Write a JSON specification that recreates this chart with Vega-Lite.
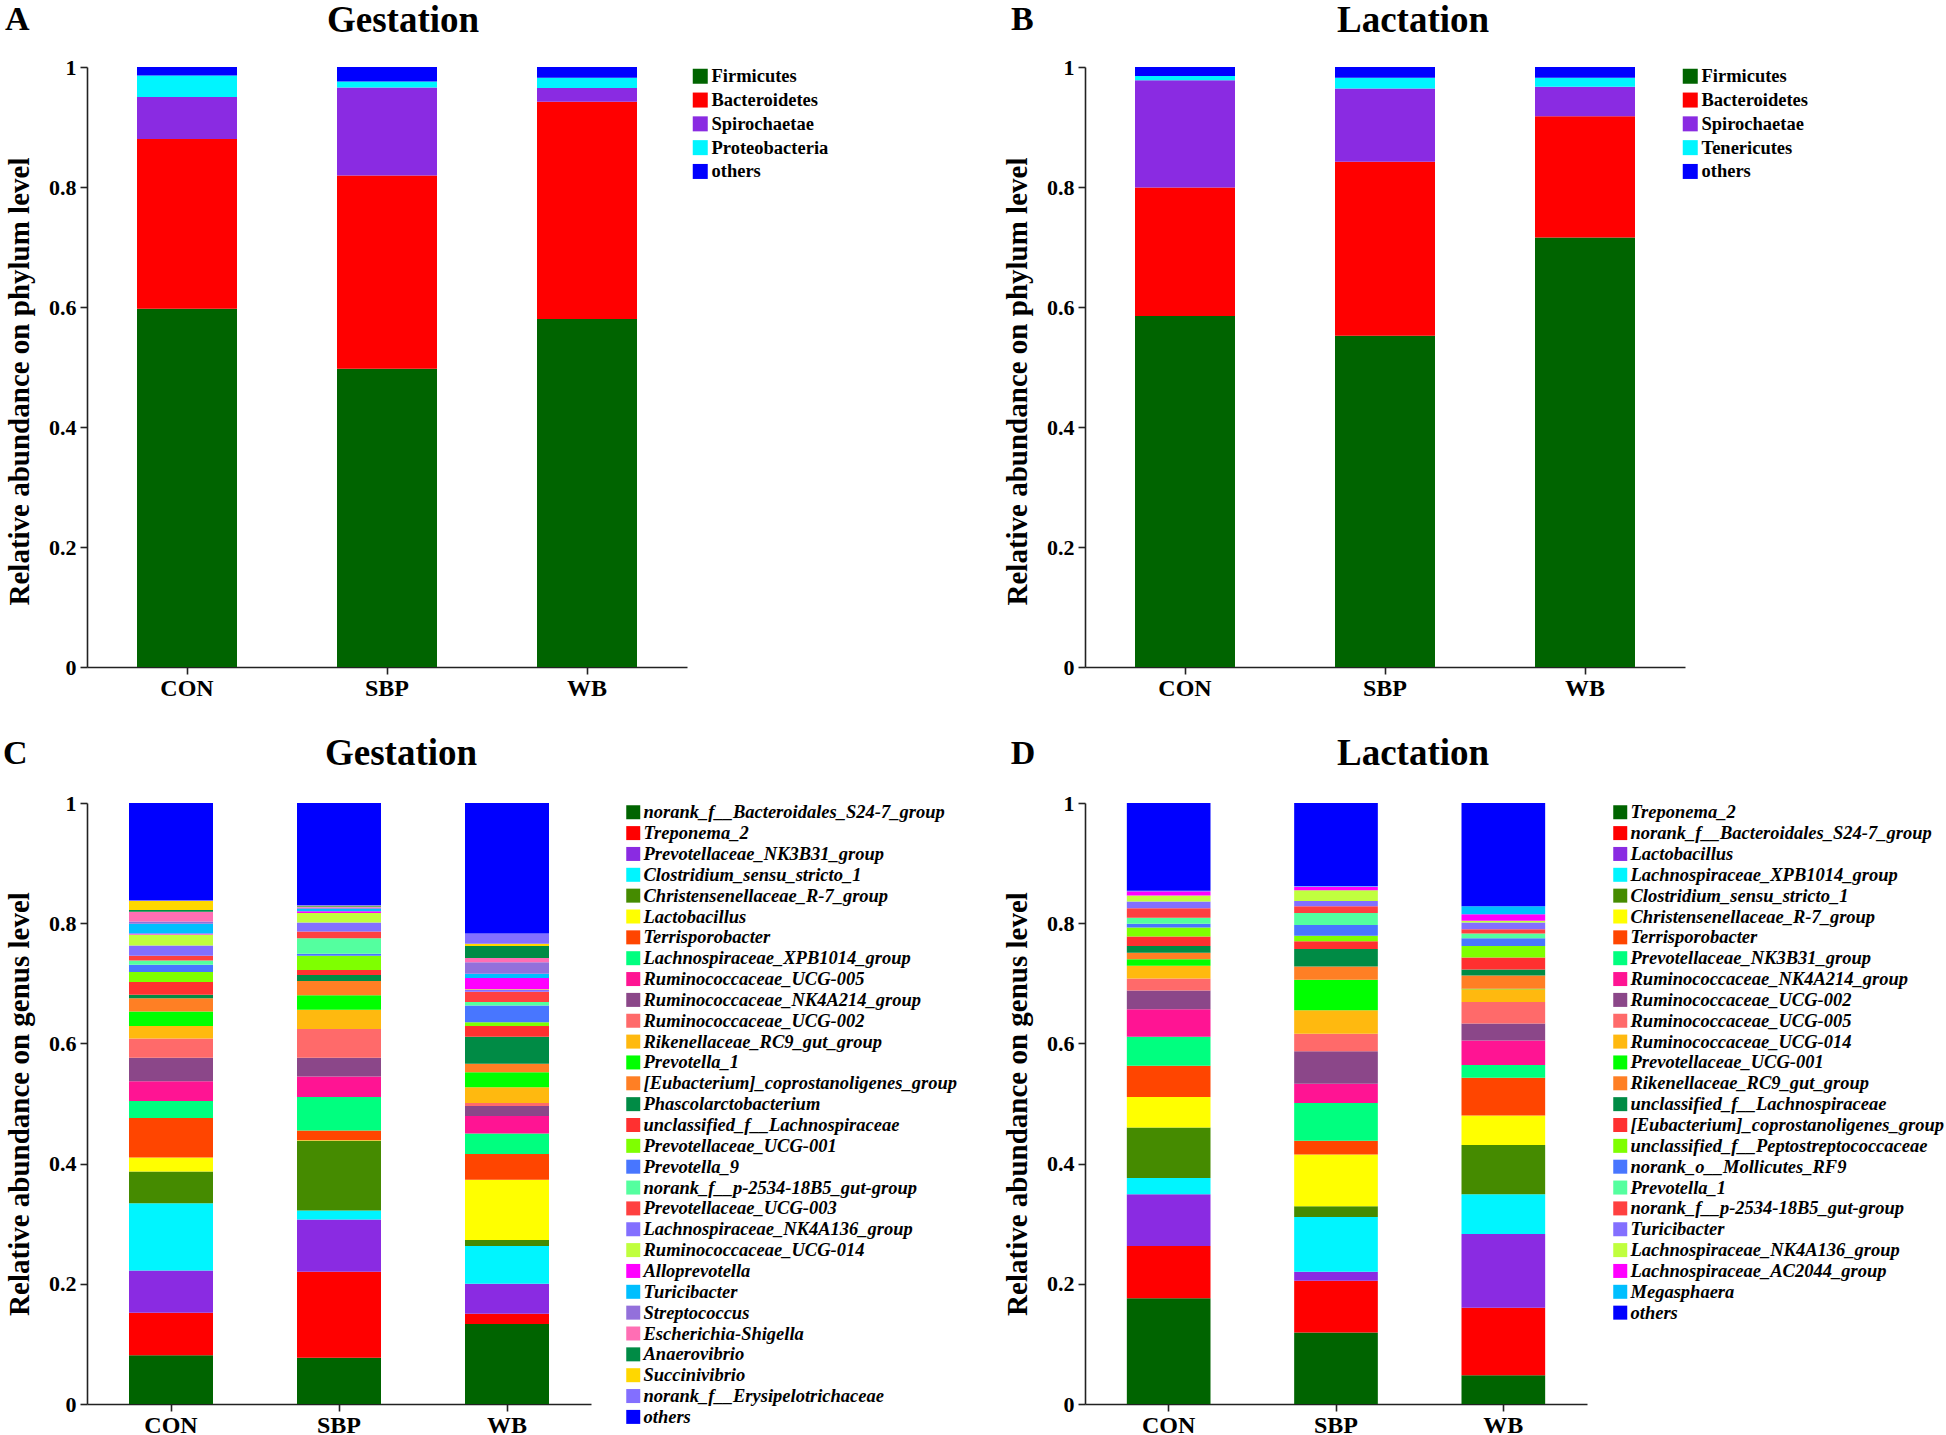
{
  "$schema": "https://vega.github.io/schema/vega-lite/v6.json",
  "padding": {"left": 3, "top": 2, "right": 5, "bottom": 5},
  "background": "white",
  "bounds": "flush",
  "columns": 2,
  "spacing": {"row": 136, "column": 398},
  "resolve": {"scale": {"color": "independent"}},
  "config": {
    "font": "Liberation Serif",
    "view": {"stroke": null},
    "axis": {"domainColor": "#222", "domainWidth": 1.6, "tickColor": "#222", "tickWidth": 1.6, "tickSize": 7, "labelFont": "Liberation Serif", "labelFontWeight": "bold", "labelColor": "black", "labelFontSize": 22, "titleFont": "Liberation Serif", "titleFontWeight": "bold", "titleFontSize": 29, "titleColor": "black", "grid": false},
    "axisX": {"labelAngle": 0, "labelFontSize": 24, "labelPadding": 2},
    "axisY": {"labelPadding": 4, "titlePadding": 14},
    "legend": {"orient": "right", "symbolType": "square", "labelFont": "Liberation Serif", "labelFontWeight": "bold", "labelColor": "black", "labelLimit": 600, "padding": 0, "symbolStrokeWidth": 0, "symbolOpacity": 1},
    "text": {"font": "Liberation Serif", "color": "black"}
  },
  "datasets": {
    "phylumG": [
      {"group": "CON", "taxon": "Firmicutes", "value": 0.597, "rank": 1},
      {"group": "CON", "taxon": "Bacteroidetes", "value": 0.283, "rank": 2},
      {"group": "CON", "taxon": "Spirochaetae", "value": 0.070, "rank": 3},
      {"group": "CON", "taxon": "Proteobacteria", "value": 0.036, "rank": 4},
      {"group": "CON", "taxon": "others", "value": 0.014, "rank": 5},
      {"group": "SBP", "taxon": "Firmicutes", "value": 0.497, "rank": 1},
      {"group": "SBP", "taxon": "Bacteroidetes", "value": 0.322, "rank": 2},
      {"group": "SBP", "taxon": "Spirochaetae", "value": 0.147, "rank": 3},
      {"group": "SBP", "taxon": "Proteobacteria", "value": 0.010, "rank": 4},
      {"group": "SBP", "taxon": "others", "value": 0.024, "rank": 5},
      {"group": "WB", "taxon": "Firmicutes", "value": 0.580, "rank": 1},
      {"group": "WB", "taxon": "Bacteroidetes", "value": 0.362, "rank": 2},
      {"group": "WB", "taxon": "Spirochaetae", "value": 0.023, "rank": 3},
      {"group": "WB", "taxon": "Proteobacteria", "value": 0.017, "rank": 4},
      {"group": "WB", "taxon": "others", "value": 0.018, "rank": 5}
    ],
    "phylumL": [
      {"group": "CON", "taxon": "Firmicutes", "value": 0.585, "rank": 1},
      {"group": "CON", "taxon": "Bacteroidetes", "value": 0.214, "rank": 2},
      {"group": "CON", "taxon": "Spirochaetae", "value": 0.179, "rank": 3},
      {"group": "CON", "taxon": "Tenericutes", "value": 0.007, "rank": 4},
      {"group": "CON", "taxon": "others", "value": 0.015, "rank": 5},
      {"group": "SBP", "taxon": "Firmicutes", "value": 0.552, "rank": 1},
      {"group": "SBP", "taxon": "Bacteroidetes", "value": 0.290, "rank": 2},
      {"group": "SBP", "taxon": "Spirochaetae", "value": 0.122, "rank": 3},
      {"group": "SBP", "taxon": "Tenericutes", "value": 0.018, "rank": 4},
      {"group": "SBP", "taxon": "others", "value": 0.018, "rank": 5},
      {"group": "WB", "taxon": "Firmicutes", "value": 0.716, "rank": 1},
      {"group": "WB", "taxon": "Bacteroidetes", "value": 0.202, "rank": 2},
      {"group": "WB", "taxon": "Spirochaetae", "value": 0.049, "rank": 3},
      {"group": "WB", "taxon": "Tenericutes", "value": 0.015, "rank": 4},
      {"group": "WB", "taxon": "others", "value": 0.018, "rank": 5}
    ],
    "genusG": [
      {"group": "CON", "taxon": "norank_f__Bacteroidales_S24-7_group", "value": 0.081, "rank": 1},
      {"group": "CON", "taxon": "Treponema_2", "value": 0.071, "rank": 2},
      {"group": "CON", "taxon": "Prevotellaceae_NK3B31_group", "value": 0.070, "rank": 3},
      {"group": "CON", "taxon": "Clostridium_sensu_stricto_1", "value": 0.112, "rank": 4},
      {"group": "CON", "taxon": "Christensenellaceae_R-7_group", "value": 0.053, "rank": 5},
      {"group": "CON", "taxon": "Lactobacillus", "value": 0.023, "rank": 6},
      {"group": "CON", "taxon": "Terrisporobacter", "value": 0.066, "rank": 7},
      {"group": "CON", "taxon": "Lachnospiraceae_XPB1014_group", "value": 0.028, "rank": 8},
      {"group": "CON", "taxon": "Ruminococcaceae_UCG-005", "value": 0.033, "rank": 9},
      {"group": "CON", "taxon": "Ruminococcaceae_NK4A214_group", "value": 0.039, "rank": 10},
      {"group": "CON", "taxon": "Ruminococcaceae_UCG-002", "value": 0.032, "rank": 11},
      {"group": "CON", "taxon": "Rikenellaceae_RC9_gut_group", "value": 0.021, "rank": 12},
      {"group": "CON", "taxon": "Prevotella_1", "value": 0.024, "rank": 13},
      {"group": "CON", "taxon": "[Eubacterium]_coprostanoligenes_group", "value": 0.022, "rank": 14},
      {"group": "CON", "taxon": "Phascolarctobacterium", "value": 0.006, "rank": 15},
      {"group": "CON", "taxon": "unclassified_f__Lachnospiraceae", "value": 0.021, "rank": 16},
      {"group": "CON", "taxon": "Prevotellaceae_UCG-001", "value": 0.017, "rank": 17},
      {"group": "CON", "taxon": "Prevotella_9", "value": 0.012, "rank": 18},
      {"group": "CON", "taxon": "norank_f__p-2534-18B5_gut-group", "value": 0.007, "rank": 19},
      {"group": "CON", "taxon": "Prevotellaceae_UCG-003", "value": 0.008, "rank": 20},
      {"group": "CON", "taxon": "Lachnospiraceae_NK4A136_group", "value": 0.017, "rank": 21},
      {"group": "CON", "taxon": "Ruminococcaceae_UCG-014", "value": 0.018, "rank": 22},
      {"group": "CON", "taxon": "Alloprevotella", "value": 0.002, "rank": 23},
      {"group": "CON", "taxon": "Turicibacter", "value": 0.016, "rank": 24},
      {"group": "CON", "taxon": "Streptococcus", "value": 0.004, "rank": 25},
      {"group": "CON", "taxon": "Escherichia-Shigella", "value": 0.016, "rank": 26},
      {"group": "CON", "taxon": "Anaerovibrio", "value": 0.003, "rank": 27},
      {"group": "CON", "taxon": "Succinivibrio", "value": 0.015, "rank": 28},
      {"group": "CON", "taxon": "norank_f__Erysipelotrichaceae", "value": 0.001, "rank": 29},
      {"group": "CON", "taxon": "others", "value": 0.162, "rank": 30},
      {"group": "SBP", "taxon": "norank_f__Bacteroidales_S24-7_group", "value": 0.077, "rank": 1},
      {"group": "SBP", "taxon": "Treponema_2", "value": 0.143, "rank": 2},
      {"group": "SBP", "taxon": "Prevotellaceae_NK3B31_group", "value": 0.087, "rank": 3},
      {"group": "SBP", "taxon": "Clostridium_sensu_stricto_1", "value": 0.015, "rank": 4},
      {"group": "SBP", "taxon": "Christensenellaceae_R-7_group", "value": 0.116, "rank": 5},
      {"group": "SBP", "taxon": "Lactobacillus", "value": 0.001, "rank": 6},
      {"group": "SBP", "taxon": "Terrisporobacter", "value": 0.016, "rank": 7},
      {"group": "SBP", "taxon": "Lachnospiraceae_XPB1014_group", "value": 0.056, "rank": 8},
      {"group": "SBP", "taxon": "Ruminococcaceae_UCG-005", "value": 0.034, "rank": 9},
      {"group": "SBP", "taxon": "Ruminococcaceae_NK4A214_group", "value": 0.031, "rank": 10},
      {"group": "SBP", "taxon": "Ruminococcaceae_UCG-002", "value": 0.048, "rank": 11},
      {"group": "SBP", "taxon": "Rikenellaceae_RC9_gut_group", "value": 0.032, "rank": 12},
      {"group": "SBP", "taxon": "Prevotella_1", "value": 0.024, "rank": 13},
      {"group": "SBP", "taxon": "[Eubacterium]_coprostanoligenes_group", "value": 0.024, "rank": 14},
      {"group": "SBP", "taxon": "Phascolarctobacterium", "value": 0.010, "rank": 15},
      {"group": "SBP", "taxon": "unclassified_f__Lachnospiraceae", "value": 0.008, "rank": 16},
      {"group": "SBP", "taxon": "Prevotellaceae_UCG-001", "value": 0.024, "rank": 17},
      {"group": "SBP", "taxon": "Prevotella_9", "value": 0.003, "rank": 18},
      {"group": "SBP", "taxon": "norank_f__p-2534-18B5_gut-group", "value": 0.026, "rank": 19},
      {"group": "SBP", "taxon": "Prevotellaceae_UCG-003", "value": 0.011, "rank": 20},
      {"group": "SBP", "taxon": "Lachnospiraceae_NK4A136_group", "value": 0.015, "rank": 21},
      {"group": "SBP", "taxon": "Ruminococcaceae_UCG-014", "value": 0.016, "rank": 22},
      {"group": "SBP", "taxon": "Alloprevotella", "value": 0.003, "rank": 23},
      {"group": "SBP", "taxon": "Turicibacter", "value": 0.004, "rank": 24},
      {"group": "SBP", "taxon": "Streptococcus", "value": 0.002, "rank": 25},
      {"group": "SBP", "taxon": "Escherichia-Shigella", "value": 0.001, "rank": 26},
      {"group": "SBP", "taxon": "Anaerovibrio", "value": 0.001, "rank": 27},
      {"group": "SBP", "taxon": "Succinivibrio", "value": 0.001, "rank": 28},
      {"group": "SBP", "taxon": "norank_f__Erysipelotrichaceae", "value": 0.001, "rank": 29},
      {"group": "SBP", "taxon": "others", "value": 0.170, "rank": 30},
      {"group": "WB", "taxon": "norank_f__Bacteroidales_S24-7_group", "value": 0.133, "rank": 1},
      {"group": "WB", "taxon": "Treponema_2", "value": 0.017, "rank": 2},
      {"group": "WB", "taxon": "Prevotellaceae_NK3B31_group", "value": 0.050, "rank": 3},
      {"group": "WB", "taxon": "Clostridium_sensu_stricto_1", "value": 0.063, "rank": 4},
      {"group": "WB", "taxon": "Christensenellaceae_R-7_group", "value": 0.010, "rank": 5},
      {"group": "WB", "taxon": "Lactobacillus", "value": 0.100, "rank": 6},
      {"group": "WB", "taxon": "Terrisporobacter", "value": 0.043, "rank": 7},
      {"group": "WB", "taxon": "Lachnospiraceae_XPB1014_group", "value": 0.034, "rank": 8},
      {"group": "WB", "taxon": "Ruminococcaceae_UCG-005", "value": 0.029, "rank": 9},
      {"group": "WB", "taxon": "Ruminococcaceae_NK4A214_group", "value": 0.017, "rank": 10},
      {"group": "WB", "taxon": "Ruminococcaceae_UCG-002", "value": 0.005, "rank": 11},
      {"group": "WB", "taxon": "Rikenellaceae_RC9_gut_group", "value": 0.026, "rank": 12},
      {"group": "WB", "taxon": "Prevotella_1", "value": 0.025, "rank": 13},
      {"group": "WB", "taxon": "[Eubacterium]_coprostanoligenes_group", "value": 0.014, "rank": 14},
      {"group": "WB", "taxon": "Phascolarctobacterium", "value": 0.045, "rank": 15},
      {"group": "WB", "taxon": "unclassified_f__Lachnospiraceae", "value": 0.018, "rank": 16},
      {"group": "WB", "taxon": "Prevotellaceae_UCG-001", "value": 0.006, "rank": 17},
      {"group": "WB", "taxon": "Prevotella_9", "value": 0.028, "rank": 18},
      {"group": "WB", "taxon": "norank_f__p-2534-18B5_gut-group", "value": 0.006, "rank": 19},
      {"group": "WB", "taxon": "Prevotellaceae_UCG-003", "value": 0.017, "rank": 20},
      {"group": "WB", "taxon": "Lachnospiraceae_NK4A136_group", "value": 0.003, "rank": 21},
      {"group": "WB", "taxon": "Ruminococcaceae_UCG-014", "value": 0.001, "rank": 22},
      {"group": "WB", "taxon": "Alloprevotella", "value": 0.019, "rank": 23},
      {"group": "WB", "taxon": "Turicibacter", "value": 0.007, "rank": 24},
      {"group": "WB", "taxon": "Streptococcus", "value": 0.019, "rank": 25},
      {"group": "WB", "taxon": "Escherichia-Shigella", "value": 0.007, "rank": 26},
      {"group": "WB", "taxon": "Anaerovibrio", "value": 0.020, "rank": 27},
      {"group": "WB", "taxon": "Succinivibrio", "value": 0.004, "rank": 28},
      {"group": "WB", "taxon": "norank_f__Erysipelotrichaceae", "value": 0.017, "rank": 29},
      {"group": "WB", "taxon": "others", "value": 0.217, "rank": 30}
    ],
    "genusL": [
      {"group": "CON", "taxon": "Treponema_2", "value": 0.176, "rank": 1},
      {"group": "CON", "taxon": "norank_f__Bacteroidales_S24-7_group", "value": 0.087, "rank": 2},
      {"group": "CON", "taxon": "Lactobacillus", "value": 0.086, "rank": 3},
      {"group": "CON", "taxon": "Lachnospiraceae_XPB1014_group", "value": 0.027, "rank": 4},
      {"group": "CON", "taxon": "Clostridium_sensu_stricto_1", "value": 0.084, "rank": 5},
      {"group": "CON", "taxon": "Christensenellaceae_R-7_group", "value": 0.051, "rank": 6},
      {"group": "CON", "taxon": "Terrisporobacter", "value": 0.052, "rank": 7},
      {"group": "CON", "taxon": "Prevotellaceae_NK3B31_group", "value": 0.048, "rank": 8},
      {"group": "CON", "taxon": "Ruminococcaceae_NK4A214_group", "value": 0.046, "rank": 9},
      {"group": "CON", "taxon": "Ruminococcaceae_UCG-002", "value": 0.031, "rank": 10},
      {"group": "CON", "taxon": "Ruminococcaceae_UCG-005", "value": 0.020, "rank": 11},
      {"group": "CON", "taxon": "Ruminococcaceae_UCG-014", "value": 0.021, "rank": 12},
      {"group": "CON", "taxon": "Prevotellaceae_UCG-001", "value": 0.011, "rank": 13},
      {"group": "CON", "taxon": "Rikenellaceae_RC9_gut_group", "value": 0.011, "rank": 14},
      {"group": "CON", "taxon": "unclassified_f__Lachnospiraceae", "value": 0.011, "rank": 15},
      {"group": "CON", "taxon": "[Eubacterium]_coprostanoligenes_group", "value": 0.016, "rank": 16},
      {"group": "CON", "taxon": "unclassified_f__Peptostreptococcaceae", "value": 0.015, "rank": 17},
      {"group": "CON", "taxon": "norank_o__Mollicutes_RF9", "value": 0.006, "rank": 18},
      {"group": "CON", "taxon": "Prevotella_1", "value": 0.010, "rank": 19},
      {"group": "CON", "taxon": "norank_f__p-2534-18B5_gut-group", "value": 0.016, "rank": 20},
      {"group": "CON", "taxon": "Turicibacter", "value": 0.011, "rank": 21},
      {"group": "CON", "taxon": "Lachnospiraceae_NK4A136_group", "value": 0.010, "rank": 22},
      {"group": "CON", "taxon": "Lachnospiraceae_AC2044_group", "value": 0.007, "rank": 23},
      {"group": "CON", "taxon": "Megasphaera", "value": 0.001, "rank": 24},
      {"group": "CON", "taxon": "others", "value": 0.146, "rank": 25},
      {"group": "SBP", "taxon": "Treponema_2", "value": 0.119, "rank": 1},
      {"group": "SBP", "taxon": "norank_f__Bacteroidales_S24-7_group", "value": 0.086, "rank": 2},
      {"group": "SBP", "taxon": "Lactobacillus", "value": 0.015, "rank": 3},
      {"group": "SBP", "taxon": "Lachnospiraceae_XPB1014_group", "value": 0.091, "rank": 4},
      {"group": "SBP", "taxon": "Clostridium_sensu_stricto_1", "value": 0.018, "rank": 5},
      {"group": "SBP", "taxon": "Christensenellaceae_R-7_group", "value": 0.086, "rank": 6},
      {"group": "SBP", "taxon": "Terrisporobacter", "value": 0.023, "rank": 7},
      {"group": "SBP", "taxon": "Prevotellaceae_NK3B31_group", "value": 0.063, "rank": 8},
      {"group": "SBP", "taxon": "Ruminococcaceae_NK4A214_group", "value": 0.032, "rank": 9},
      {"group": "SBP", "taxon": "Ruminococcaceae_UCG-002", "value": 0.054, "rank": 10},
      {"group": "SBP", "taxon": "Ruminococcaceae_UCG-005", "value": 0.029, "rank": 11},
      {"group": "SBP", "taxon": "Ruminococcaceae_UCG-014", "value": 0.039, "rank": 12},
      {"group": "SBP", "taxon": "Prevotellaceae_UCG-001", "value": 0.051, "rank": 13},
      {"group": "SBP", "taxon": "Rikenellaceae_RC9_gut_group", "value": 0.022, "rank": 14},
      {"group": "SBP", "taxon": "unclassified_f__Lachnospiraceae", "value": 0.029, "rank": 15},
      {"group": "SBP", "taxon": "[Eubacterium]_coprostanoligenes_group", "value": 0.013, "rank": 16},
      {"group": "SBP", "taxon": "unclassified_f__Peptostreptococcaceae", "value": 0.009, "rank": 17},
      {"group": "SBP", "taxon": "norank_o__Mollicutes_RF9", "value": 0.018, "rank": 18},
      {"group": "SBP", "taxon": "Prevotella_1", "value": 0.020, "rank": 19},
      {"group": "SBP", "taxon": "norank_f__p-2534-18B5_gut-group", "value": 0.011, "rank": 20},
      {"group": "SBP", "taxon": "Turicibacter", "value": 0.009, "rank": 21},
      {"group": "SBP", "taxon": "Lachnospiraceae_NK4A136_group", "value": 0.018, "rank": 22},
      {"group": "SBP", "taxon": "Lachnospiraceae_AC2044_group", "value": 0.006, "rank": 23},
      {"group": "SBP", "taxon": "Megasphaera", "value": 0.001, "rank": 24},
      {"group": "SBP", "taxon": "others", "value": 0.138, "rank": 25},
      {"group": "WB", "taxon": "Treponema_2", "value": 0.048, "rank": 1},
      {"group": "WB", "taxon": "norank_f__Bacteroidales_S24-7_group", "value": 0.112, "rank": 2},
      {"group": "WB", "taxon": "Lactobacillus", "value": 0.123, "rank": 3},
      {"group": "WB", "taxon": "Lachnospiraceae_XPB1014_group", "value": 0.066, "rank": 4},
      {"group": "WB", "taxon": "Clostridium_sensu_stricto_1", "value": 0.082, "rank": 5},
      {"group": "WB", "taxon": "Christensenellaceae_R-7_group", "value": 0.049, "rank": 6},
      {"group": "WB", "taxon": "Terrisporobacter", "value": 0.063, "rank": 7},
      {"group": "WB", "taxon": "Prevotellaceae_NK3B31_group", "value": 0.021, "rank": 8},
      {"group": "WB", "taxon": "Ruminococcaceae_NK4A214_group", "value": 0.041, "rank": 9},
      {"group": "WB", "taxon": "Ruminococcaceae_UCG-002", "value": 0.028, "rank": 10},
      {"group": "WB", "taxon": "Ruminococcaceae_UCG-005", "value": 0.036, "rank": 11},
      {"group": "WB", "taxon": "Ruminococcaceae_UCG-014", "value": 0.021, "rank": 12},
      {"group": "WB", "taxon": "Prevotellaceae_UCG-001", "value": 0.001, "rank": 13},
      {"group": "WB", "taxon": "Rikenellaceae_RC9_gut_group", "value": 0.022, "rank": 14},
      {"group": "WB", "taxon": "unclassified_f__Lachnospiraceae", "value": 0.010, "rank": 15},
      {"group": "WB", "taxon": "[Eubacterium]_coprostanoligenes_group", "value": 0.020, "rank": 16},
      {"group": "WB", "taxon": "unclassified_f__Peptostreptococcaceae", "value": 0.019, "rank": 17},
      {"group": "WB", "taxon": "norank_o__Mollicutes_RF9", "value": 0.013, "rank": 18},
      {"group": "WB", "taxon": "Prevotella_1", "value": 0.008, "rank": 19},
      {"group": "WB", "taxon": "norank_f__p-2534-18B5_gut-group", "value": 0.007, "rank": 20},
      {"group": "WB", "taxon": "Turicibacter", "value": 0.011, "rank": 21},
      {"group": "WB", "taxon": "Lachnospiraceae_NK4A136_group", "value": 0.003, "rank": 22},
      {"group": "WB", "taxon": "Lachnospiraceae_AC2044_group", "value": 0.011, "rank": 23},
      {"group": "WB", "taxon": "Megasphaera", "value": 0.013, "rank": 24},
      {"group": "WB", "taxon": "others", "value": 0.172, "rank": 25}
    ]
  },
  "concat": [
    {
      "width": 600, "height": 600,
      "layer": [
        {
          "data": {"name": "phylumG"},
          "mark": {"type": "bar"},
          "encoding": {
            "x": {"field": "group", "type": "nominal", "scale": {"paddingInner": 0.5, "paddingOuter": 0.25}, "axis": {"title": null}},
            "y": {"field": "value", "type": "quantitative", "stack": "zero", "scale": {"domain": [0, 1], "nice": false}, "axis": {"values": [0, 0.2, 0.4, 0.6, 0.8, 1], "format": "~g", "title": "Relative abundance on phylum level", "titleY": 314}},
            "color": {"field": "taxon", "type": "nominal",
              "scale": {"domain": ["Firmicutes", "Bacteroidetes", "Spirochaetae", "Proteobacteria", "others"], "range": ["#006400", "#FF0000", "#8A2BE2", "#00F5FF", "#0000FF"]},
              "legend": {"title": null, "symbolSize": 225, "labelFontSize": 18.5, "rowPadding": 4.8, "labelOffset": 2, "offset": 4}},
            "order": {"field": "rank", "type": "quantitative", "sort": "ascending"}
          }
        },
        {
          "data": {"values": [{"label": "A"}]},
          "mark": {"type": "text", "align": "left", "baseline": "alphabetic", "dx": -182, "dy": -37, "fontSize": 34, "fontWeight": "bold"},
          "encoding": {"x": {"datum": "CON", "type": "nominal"}, "y": {"datum": 1, "type": "quantitative"}, "text": {"field": "label"}}
        },
        {
          "data": {"values": [{"label": "Gestation"}]},
          "mark": {"type": "text", "align": "center", "baseline": "alphabetic", "dx": 16, "dy": -35, "fontSize": 37, "fontWeight": "bold"},
          "encoding": {"x": {"datum": "SBP", "type": "nominal"}, "y": {"datum": 1, "type": "quantitative"}, "text": {"field": "label"}}
        }
      ]
    },
    {
      "width": 600, "height": 600,
      "layer": [
        {
          "data": {"name": "phylumL"},
          "mark": {"type": "bar"},
          "encoding": {
            "x": {"field": "group", "type": "nominal", "scale": {"paddingInner": 0.5, "paddingOuter": 0.25}, "axis": {"title": null}},
            "y": {"field": "value", "type": "quantitative", "stack": "zero", "scale": {"domain": [0, 1], "nice": false}, "axis": {"values": [0, 0.2, 0.4, 0.6, 0.8, 1], "format": "~g", "title": "Relative abundance on phylum level", "titleY": 314}},
            "color": {"field": "taxon", "type": "nominal",
              "scale": {"domain": ["Firmicutes", "Bacteroidetes", "Spirochaetae", "Tenericutes", "others"], "range": ["#006400", "#FF0000", "#8A2BE2", "#00F5FF", "#0000FF"]},
              "legend": {"title": null, "symbolSize": 225, "labelFontSize": 18.5, "rowPadding": 4.8, "labelOffset": 2, "offset": -4}},
            "order": {"field": "rank", "type": "quantitative", "sort": "ascending"}
          }
        },
        {
          "data": {"values": [{"label": "B"}]},
          "mark": {"type": "text", "align": "left", "baseline": "alphabetic", "dx": -174, "dy": -37, "fontSize": 34, "fontWeight": "bold"},
          "encoding": {"x": {"datum": "CON", "type": "nominal"}, "y": {"datum": 1, "type": "quantitative"}, "text": {"field": "label"}}
        },
        {
          "data": {"values": [{"label": "Lactation"}]},
          "mark": {"type": "text", "align": "center", "baseline": "alphabetic", "dx": 28, "dy": -35, "fontSize": 37, "fontWeight": "bold"},
          "encoding": {"x": {"datum": "SBP", "type": "nominal"}, "y": {"datum": 1, "type": "quantitative"}, "text": {"field": "label"}}
        }
      ]
    },
    {
      "width": 504, "height": 601,
      "layer": [
        {
          "data": {"name": "genusG"},
          "mark": {"type": "bar"},
          "encoding": {
            "x": {"field": "group", "type": "nominal", "scale": {"paddingInner": 0.5, "paddingOuter": 0.25}, "axis": {"title": null}},
            "y": {"field": "value", "type": "quantitative", "stack": "zero", "scale": {"domain": [0, 1], "nice": false}, "axis": {"values": [0, 0.2, 0.4, 0.6, 0.8, 1], "format": "~g", "title": "Relative abundance on genus level"}},
            "color": {"field": "taxon", "type": "nominal",
              "scale": {
                "domain": ["norank_f__Bacteroidales_S24-7_group", "Treponema_2", "Prevotellaceae_NK3B31_group", "Clostridium_sensu_stricto_1", "Christensenellaceae_R-7_group", "Lactobacillus", "Terrisporobacter", "Lachnospiraceae_XPB1014_group", "Ruminococcaceae_UCG-005", "Ruminococcaceae_NK4A214_group", "Ruminococcaceae_UCG-002", "Rikenellaceae_RC9_gut_group", "Prevotella_1", "[Eubacterium]_coprostanoligenes_group", "Phascolarctobacterium", "unclassified_f__Lachnospiraceae", "Prevotellaceae_UCG-001", "Prevotella_9", "norank_f__p-2534-18B5_gut-group", "Prevotellaceae_UCG-003", "Lachnospiraceae_NK4A136_group", "Ruminococcaceae_UCG-014", "Alloprevotella", "Turicibacter", "Streptococcus", "Escherichia-Shigella", "Anaerovibrio", "Succinivibrio", "norank_f__Erysipelotrichaceae", "others"],
                "range": ["#006400", "#FF0000", "#8A2BE2", "#00F5FF", "#458B00", "#FFFF00", "#FF4500", "#00FF7F", "#FF1493", "#8B4789", "#FF6A6A", "#FFB90F", "#00FF00", "#FF7F24", "#008B45", "#FF3030", "#7FFF00", "#4876FF", "#54FF9F", "#FF4040", "#836FFF", "#C0FF3E", "#FF00FF", "#00BFFF", "#9370DB", "#FF6EB4", "#008B45", "#FFD700", "#836FFF", "#0000FF"]
              },
              "legend": {"title": null, "symbolSize": 196, "labelFontSize": 18.5, "labelFontStyle": "italic", "rowPadding": 1.85, "labelOffset": 1, "offset": 33}},
            "order": {"field": "rank", "type": "quantitative", "sort": "ascending"}
          }
        },
        {
          "data": {"values": [{"label": "C"}]},
          "mark": {"type": "text", "align": "left", "baseline": "alphabetic", "dx": -168, "dy": -39, "fontSize": 34, "fontWeight": "bold"},
          "encoding": {"x": {"datum": "CON", "type": "nominal"}, "y": {"datum": 1, "type": "quantitative"}, "text": {"field": "label"}}
        },
        {
          "data": {"values": [{"label": "Gestation"}]},
          "mark": {"type": "text", "align": "center", "baseline": "alphabetic", "dx": 62, "dy": -38, "fontSize": 37, "fontWeight": "bold"},
          "encoding": {"x": {"datum": "SBP", "type": "nominal"}, "y": {"datum": 1, "type": "quantitative"}, "text": {"field": "label"}}
        }
      ]
    },
    {
      "width": 502, "height": 601,
      "layer": [
        {
          "data": {"name": "genusL"},
          "mark": {"type": "bar"},
          "encoding": {
            "x": {"field": "group", "type": "nominal", "scale": {"paddingInner": 0.5, "paddingOuter": 0.25}, "axis": {"title": null}},
            "y": {"field": "value", "type": "quantitative", "stack": "zero", "scale": {"domain": [0, 1], "nice": false}, "axis": {"values": [0, 0.2, 0.4, 0.6, 0.8, 1], "format": "~g", "title": "Relative abundance on genus level"}},
            "color": {"field": "taxon", "type": "nominal",
              "scale": {
                "domain": ["Treponema_2", "norank_f__Bacteroidales_S24-7_group", "Lactobacillus", "Lachnospiraceae_XPB1014_group", "Clostridium_sensu_stricto_1", "Christensenellaceae_R-7_group", "Terrisporobacter", "Prevotellaceae_NK3B31_group", "Ruminococcaceae_NK4A214_group", "Ruminococcaceae_UCG-002", "Ruminococcaceae_UCG-005", "Ruminococcaceae_UCG-014", "Prevotellaceae_UCG-001", "Rikenellaceae_RC9_gut_group", "unclassified_f__Lachnospiraceae", "[Eubacterium]_coprostanoligenes_group", "unclassified_f__Peptostreptococcaceae", "norank_o__Mollicutes_RF9", "Prevotella_1", "norank_f__p-2534-18B5_gut-group", "Turicibacter", "Lachnospiraceae_NK4A136_group", "Lachnospiraceae_AC2044_group", "Megasphaera", "others"],
                "range": ["#006400", "#FF0000", "#8A2BE2", "#00F5FF", "#458B00", "#FFFF00", "#FF4500", "#00FF7F", "#FF1493", "#8B4789", "#FF6A6A", "#FFB90F", "#00FF00", "#FF7F24", "#008B45", "#FF3030", "#7FFF00", "#4876FF", "#54FF9F", "#FF4040", "#836FFF", "#C0FF3E", "#FF00FF", "#00BFFF", "#0000FF"]
              },
              "legend": {"title": null, "symbolSize": 196, "labelFontSize": 18.5, "labelFontStyle": "italic", "rowPadding": 1.85, "labelOffset": 1, "offset": 24}},
            "order": {"field": "rank", "type": "quantitative", "sort": "ascending"}
          }
        },
        {
          "data": {"values": [{"label": "D"}]},
          "mark": {"type": "text", "align": "left", "baseline": "alphabetic", "dx": -158, "dy": -39, "fontSize": 34, "fontWeight": "bold"},
          "encoding": {"x": {"datum": "CON", "type": "nominal"}, "y": {"datum": 1, "type": "quantitative"}, "text": {"field": "label"}}
        },
        {
          "data": {"values": [{"label": "Lactation"}]},
          "mark": {"type": "text", "align": "center", "baseline": "alphabetic", "dx": 77, "dy": -38, "fontSize": 37, "fontWeight": "bold"},
          "encoding": {"x": {"datum": "SBP", "type": "nominal"}, "y": {"datum": 1, "type": "quantitative"}, "text": {"field": "label"}}
        }
      ]
    }
  ]
}
